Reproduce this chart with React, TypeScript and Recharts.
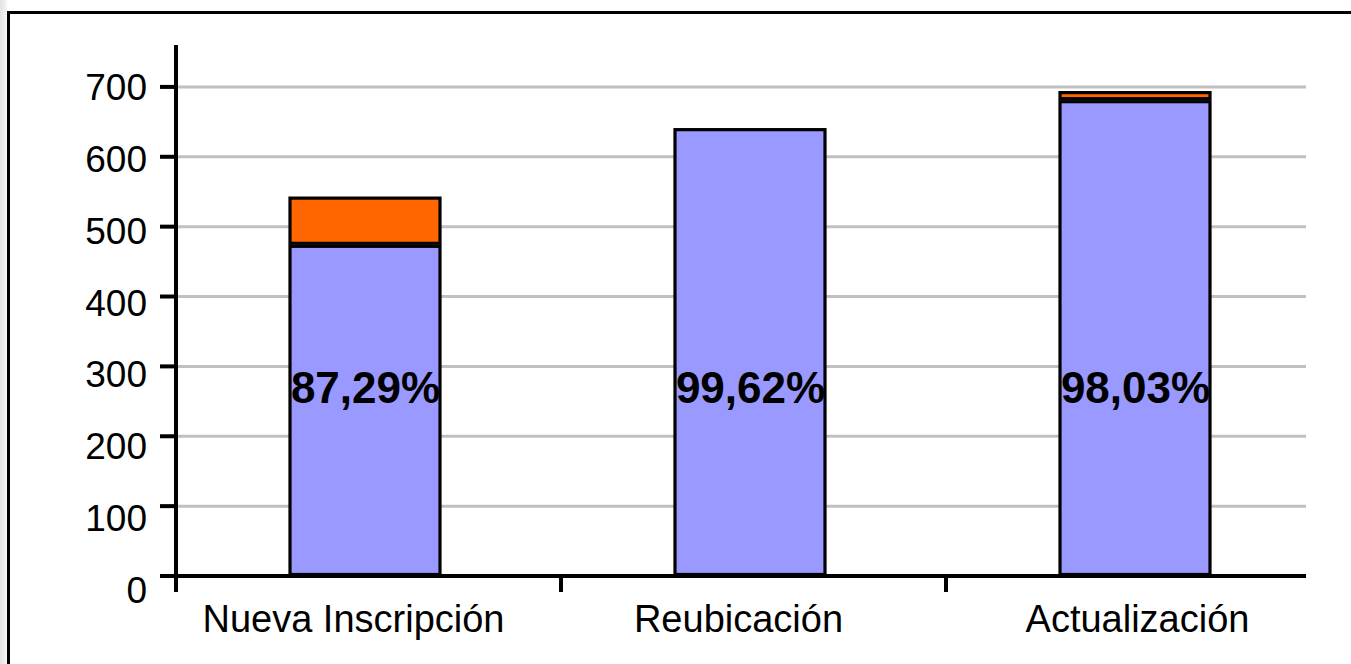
import React from 'react';
import { BarChart, Bar, XAxis, YAxis, CartesianGrid, LabelList } from 'recharts';

const categories = ['Nueva Inscripción', 'Reubicación', 'Actualización'];
const aceptados = [474, 641, 681];
const rechazados = [69, 0, 13];
const porcentajes = ['87,29%', '99,62%', '98,03%'];
const yTicks = [0, 100, 200, 300, 400, 500, 600, 700];

const data = categories.map((name, i) => ({
  name,
  aceptados: aceptados[i],
  rechazados: rechazados[i],
  pct: porcentajes[i],
}));

const FONT = '"Liberation Sans", Arial, sans-serif';
const BAND = 385;
const PLOT_TOP = 45;
const LABEL_DX = [-15, -15, -1];

// border drawn inside each segment, like the original export
const InsetBar = (props: any) => {
  const { x, y, width, height, fill } = props;
  if (!height || height <= 0) return null;
  return (
    <rect
      x={x - 2}
      y={y + 1.5}
      width={width - 3}
      height={Math.max(height - 3, 0)}
      fill={fill}
      stroke="#000"
      strokeWidth={3.2}
    />
  );
};

// no gridline along the top edge of the plot
const GridLine = (p: any) => {
  if (p.y1 <= PLOT_TOP + 2) return <g key={p.key} />;
  return <line key={p.key} x1={p.x1} x2={p.x2} y1={p.y1} y2={p.y2} stroke="#c0c0c0" strokeWidth={3} />;
};

const YTick = (props: any) => {
  const { x, y, payload } = props;
  const shift = ((700 - payload.value) / 700) * 13 + 1;
  return (
    <text x={x} y={y + shift} textAnchor="end" dominantBaseline="central" fontSize={37} fontFamily={FONT} fill="#000">
      {payload.value}
    </text>
  );
};

const XTick = (props: any) => {
  const { x, y, payload, index } = props;
  const axisY = y - 16;
  return (
    <g>
      <line x1={x - BAND / 2} x2={x - BAND / 2} y1={axisY} y2={axisY + 16} stroke="#000" strokeWidth={4} />
      {index === categories.length - 1 && (
        <line x1={x + BAND / 2} x2={x + BAND / 2} y1={axisY} y2={axisY + 16} stroke="#000" strokeWidth={4} />
      )}
      <text x={x + (LABEL_DX[index] ?? 0)} y={y + 40} textAnchor="middle" fontSize={38} fontFamily={FONT} fill="#000">
        {payload.value}
      </text>
    </g>
  );
};

const PctLabel = (props: any) => {
  const { x, y, width, height, value } = props;
  return (
    <text
      x={x + width / 2 - 3}
      y={y + height - 189}
      textAnchor="middle"
      dominantBaseline="central"
      fontSize={44}
      fontWeight="bold"
      fontFamily={FONT}
      fill="#000"
    >
      {value}
    </text>
  );
};

export default function App() {
  return (
    <div style={{ position: 'absolute', left: 0, top: 0, width: 1351, height: 664, background: '#fff', overflow: 'hidden', fontFamily: FONT }}>
      <div style={{ position: 'absolute', left: 0, top: 0, width: 7, height: 664, background: 'linear-gradient(to right, #e2e2e2, #f6f6f6)' }} />
      <div style={{ position: 'absolute', left: 7, top: 11, right: 0, bottom: 0, borderTop: '3px solid #000', borderLeft: '3px solid #000' }} />
      <div style={{ position: 'absolute', left: 0, top: 0, width: 1306, height: 664, overflow: 'hidden' }}>
        <BarChart width={1351} height={664} data={data} margin={{ top: PLOT_TOP, right: 20, bottom: 0, left: 0 }}>
          <CartesianGrid vertical={false} stroke="#c0c0c0" strokeWidth={3} horizontal={GridLine} />
          <XAxis
            dataKey="name"
            height={88}
            axisLine={{ stroke: '#000', strokeWidth: 4 }}
            tickLine={false}
            tickSize={16}
            tickMargin={0}
            tick={<XTick />}
            interval={0}
          />
          <YAxis
            width={176}
            domain={[0, 760]}
            ticks={yTicks}
            allowDataOverflow
            axisLine={{ stroke: '#000', strokeWidth: 4 }}
            tickLine={{ stroke: '#000', strokeWidth: 4 }}
            tickSize={16}
            tickMargin={13}
            tick={<YTick />}
          />
          <Bar dataKey="aceptados" stackId="a" fill="#9999ff" barSize={153} shape={<InsetBar />} isAnimationActive={false}>
            <LabelList dataKey="pct" content={<PctLabel />} />
          </Bar>
          <Bar dataKey="rechazados" stackId="a" fill="#ff6600" barSize={153} shape={<InsetBar />} isAnimationActive={false} />
        </BarChart>
      </div>
    </div>
  );
}
